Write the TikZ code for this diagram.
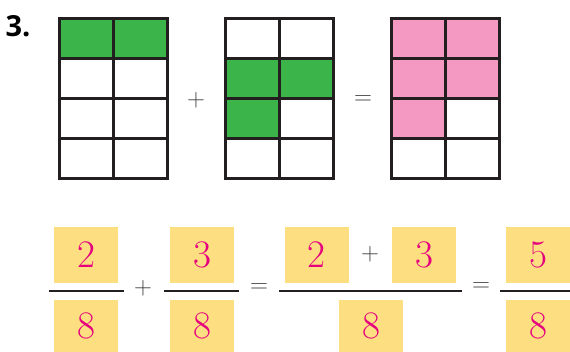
\documentclass[tikz,border=0pt]{standalone}
\usepackage{fontspec}
\newfontfamily\labelfont{Open Sans}
\definecolor{cellgreen}{HTML}{3BB54A}
\definecolor{cellpink}{HTML}{F49AC2}
\definecolor{boxyellow}{HTML}{FDDF82}
\definecolor{digitpink}{HTML}{E6007E}
\definecolor{gridline}{HTML}{231F20}
\tikzset{
  gridcell/.style={draw=gridline, line width=3pt},
  digitbox/.style={fill=boxyellow, minimum width=64pt, minimum height=56pt,
    inner sep=0pt, text=digitpink, font=\fontsize{39}{40}\selectfont},
  denombox/.style={digitbox, minimum height=52pt},
  opsign/.style={text=black!75, inner sep=0pt, font=\fontsize{31}{32}\selectfont},
  fracbar/.style={line width=1.5pt, draw=gridline}
}
\begin{document}
\begin{tikzpicture}[x=1pt, y=-1pt]
  \useasboundingbox (0,0) rectangle (570,352);
  \node[font=\labelfont\bfseries\fontsize{29}{30}\selectfont, inner sep=0pt] (num) at (18,26) {3.};

  % coloured cells: grid origin / colour / cells (col,row)
  \foreach \gx/\col/\cells in {59/cellgreen/{0/0,1/0},
                               225/cellgreen/{0/1,1/1,0/2},
                               391/cellpink/{0/0,1/0,0/1,1/1,0/2}} {
    \foreach \c/\r in \cells
      \fill[\col] (\gx+54*\c,18.5+40*\r) rectangle ++(54,40);
  }
  % grid lines
  \foreach \gx in {59,225,391} {
    \foreach \c in {0,1} \foreach \r in {0,...,3}
      \draw[gridcell] (\gx+54*\c,18.5+40*\r) rectangle ++(54,40);
  }
  \node[opsign] (plustop) at (196,100) {$+$};
  \node[opsign] (eqtop) at (363,100) {$=$};

  % fractions
  \node[digitbox] (numA) at (86,255) {2};
  \node[denombox] (denA) at (86,326) {8};
  \node[digitbox] (numB) at (202,255) {3};
  \node[denombox] (denB) at (202,326) {8};
  \node[digitbox] (numC) at (316.5,255) {2};
  \node[digitbox] (numD) at (424,255) {3};
  \node[denombox] (denC) at (371,326) {8};
  \node[digitbox] (numE) at (538,255) {5};
  \node[denombox] (denE) at (538,326) {8};

  \draw[fracbar] (49,291) -- (124,291);
  \draw[fracbar] (164,291) -- (239,291);
  \draw[fracbar] (279,291) -- (462,291);
  \draw[fracbar] (500,291) -- (570,291);

  \node[opsign] (plusA) at (143,288) {$+$};
  \node[opsign] (eqA) at (259,288) {$=$};
  \node[opsign] (plusB) at (370,254) {$+$};
  \node[opsign] (eqB) at (481,287) {$=$};
\end{tikzpicture}
\end{document}
